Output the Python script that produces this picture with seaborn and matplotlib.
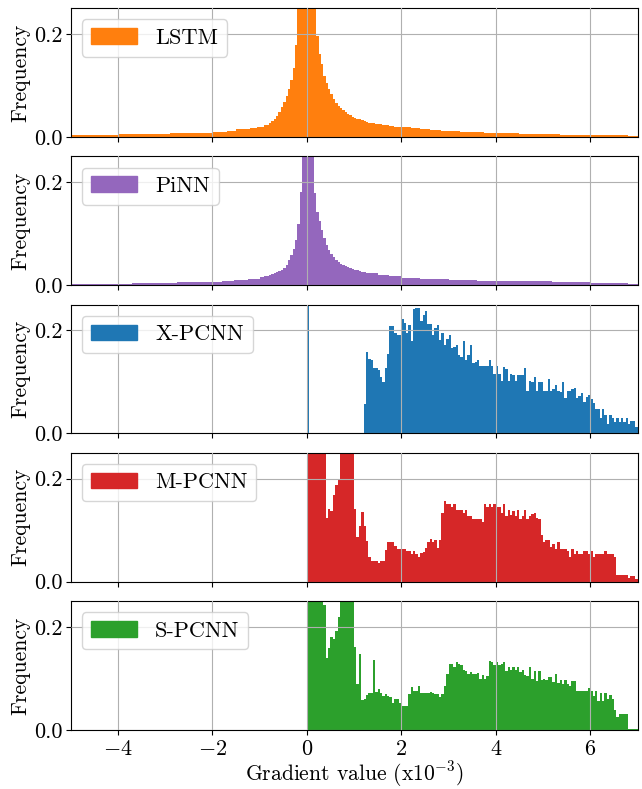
import matplotlib
matplotlib.use('Agg')
import matplotlib.pyplot as plt
import matplotlib.patches as mpatches
import seaborn as sns
import numpy as np
import pandas as pd

# --- data: bar heights (fraction of samples) ---

# LSTM / PiNN: wide bins in the tails, 0.05 bins in the core (-0.8 .. 1.3)
core_edges = np.linspace(-0.8, 1.3, 43)

lstm_left_edges = [-5.0, -4.0, -3.7, -2.9, -2.3, -2.0, -1.7, -1.5, -1.2, -1.05, -0.9, -0.8]
lstm_left = [0.004, 0.0055, 0.006, 0.0075, 0.0085, 0.010, 0.0115, 0.015, 0.017, 0.020, 0.024]
lstm_core = [0.027, 0.031, 0.036, 0.041, 0.049, 0.058, 0.068, 0.080, 0.093, 0.111,
             0.134, 0.179, 0.30, 0.35, 0.40, 0.45, 0.45, 0.40, 0.33, 0.27,
             0.197, 0.161, 0.141, 0.119, 0.105, 0.093, 0.083, 0.074, 0.066, 0.060,
             0.056, 0.052, 0.048, 0.045, 0.043, 0.040, 0.038, 0.036, 0.035, 0.033,
             0.031, 0.029]
lstm_right_edges = [1.3, 1.45, 1.6, 1.75, 1.85, 2.2, 2.4, 2.6, 2.85, 3.25, 3.75, 4.5, 5.35, 6.8, 7.0]
lstm_right = [0.028, 0.026, 0.024, 0.022, 0.020, 0.017, 0.015, 0.013, 0.011, 0.0095,
              0.0078, 0.006, 0.004, 0.002]

pinn_left_edges = [-5.0, -3.7, -2.75, -2.1, -1.8, -1.55, -1.25, -1.0, -0.9, -0.8]
pinn_left = [0.0025, 0.004, 0.0055, 0.007, 0.009, 0.010, 0.013, 0.016, 0.018]
pinn_core = [0.020, 0.021, 0.023, 0.025, 0.027, 0.030, 0.034, 0.040, 0.050, 0.058,
             0.070, 0.088, 0.118, 0.182, 0.28, 0.34, 0.40, 0.40, 0.30, 0.180,
             0.142, 0.125, 0.108, 0.092, 0.078, 0.069, 0.061, 0.054, 0.049, 0.045,
             0.042, 0.040, 0.038, 0.035, 0.033, 0.031, 0.030, 0.029, 0.027, 0.026,
             0.025, 0.024]
pinn_right_edges = [1.3, 1.5, 1.75, 2.0, 2.4, 3.0, 3.6, 4.4, 5.2, 6.0, 6.8, 7.0]
pinn_right = [0.023, 0.020, 0.018, 0.015, 0.013, 0.011, 0.009, 0.0075, 0.0065, 0.005, 0.003]

# PCNN variants: 0.05 bins from 0 to 7
pcnn_edges = np.linspace(0, 7, 141)

xpcnn = [0.32, 0, 0, 0, 0, 0, 0, 0, 0, 0,
         0, 0, 0, 0, 0, 0, 0, 0, 0, 0,
         0, 0, 0, 0, 0.058, 0.159, 0.144, 0.142, 0.127, 0.127,
         0.123, 0.110, 0.100, 0.128, 0.154, 0.209, 0.209, 0.194, 0.191, 0.192,
         0.222, 0.215, 0.194, 0.211, 0.179, 0.242, 0.244, 0.244, 0.219, 0.230,
         0.238, 0.213, 0.213, 0.192, 0.204, 0.211, 0.181, 0.194, 0.171, 0.183,
         0.192, 0.165, 0.168, 0.172, 0.152, 0.148, 0.179, 0.142, 0.152, 0.171,
         0.137, 0.139, 0.142, 0.131, 0.131, 0.131, 0.131, 0.142, 0.131, 0.116,
         0.131, 0.116, 0.102, 0.129, 0.126, 0.102, 0.116, 0.113, 0.102, 0.114,
         0.114, 0.114, 0.127, 0.083, 0.102, 0.100, 0.110, 0.083, 0.099, 0.099,
         0.083, 0.083, 0.106, 0.083, 0.087, 0.095, 0.083, 0.081, 0.099, 0.068,
         0.083, 0.083, 0.087, 0.089, 0.068, 0.072, 0.079, 0.062, 0.070, 0.074,
         0.066, 0.059, 0.047, 0.047, 0.030, 0.047, 0.036, 0.018, 0.036, 0.030,
         0.022, 0.030, 0.022, 0.030, 0.022, 0.030, 0.018, 0.024, 0.024, 0.013]

mpcnn = [0.34, 0.34, 0.34, 0.34, 0.34, 0.34, 0.34, 0.34, 0.124, 0.141,
         0.137, 0.168, 0.187, 0.199, 0.34, 0.34, 0.34, 0.34, 0.34, 0.34,
         0.141, 0.087, 0.108, 0.135, 0.108, 0.078, 0.047, 0.041, 0.041, 0.041,
         0.036, 0.040, 0.041, 0.061, 0.076, 0.076, 0.076, 0.070, 0.064, 0.064,
         0.064, 0.064, 0.059, 0.059, 0.053, 0.059, 0.053, 0.047, 0.055, 0.057,
         0.066, 0.076, 0.082, 0.076, 0.080, 0.066, 0.080, 0.133, 0.156, 0.151,
         0.151, 0.145, 0.151, 0.139, 0.139, 0.139, 0.133, 0.139, 0.128, 0.128,
         0.122, 0.122, 0.122, 0.122, 0.116, 0.151, 0.145, 0.151, 0.145, 0.151,
         0.145, 0.145, 0.133, 0.151, 0.128, 0.139, 0.130, 0.137, 0.128, 0.139,
         0.122, 0.128, 0.139, 0.122, 0.128, 0.131, 0.133, 0.124, 0.122, 0.091,
         0.076, 0.080, 0.080, 0.068, 0.074, 0.063, 0.076, 0.064, 0.064, 0.064,
         0.059, 0.047, 0.064, 0.053, 0.059, 0.053, 0.053, 0.059, 0.059, 0.053,
         0.059, 0.047, 0.053, 0.053, 0.053, 0.053, 0.059, 0.053, 0.053, 0.053,
         0.047, 0.013, 0.013, 0.013, 0.012, 0.012, 0.008, 0.011, 0.011, 0.006]

spcnn = [0.34, 0.34, 0.34, 0.34, 0.34, 0.34, 0.34, 0.243, 0.140, 0.159,
         0.180, 0.176, 0.192, 0.219, 0.34, 0.34, 0.34, 0.34, 0.34, 0.34,
         0.161, 0.088, 0.147, 0.057, 0.059, 0.067, 0.071, 0.071, 0.136, 0.074,
         0.080, 0.071, 0.065, 0.069, 0.065, 0.063, 0.053, 0.059, 0.059, 0.053,
         0.047, 0.047, 0.047, 0.069, 0.084, 0.076, 0.076, 0.086, 0.072, 0.071,
         0.072, 0.072, 0.074, 0.071, 0.069, 0.069, 0.063, 0.069, 0.086, 0.109,
         0.128, 0.128, 0.122, 0.132, 0.128, 0.126, 0.117, 0.115, 0.109, 0.113,
         0.109, 0.109, 0.111, 0.099, 0.107, 0.099, 0.105, 0.134, 0.132, 0.126,
         0.132, 0.126, 0.128, 0.132, 0.115, 0.122, 0.117, 0.121, 0.117, 0.121,
         0.113, 0.117, 0.107, 0.105, 0.121, 0.099, 0.115, 0.094, 0.115, 0.097,
         0.099, 0.097, 0.103, 0.103, 0.092, 0.109, 0.090, 0.097, 0.088, 0.096,
         0.088, 0.086, 0.094, 0.094, 0.076, 0.076, 0.076, 0.076, 0.076, 0.082,
         0.076, 0.065, 0.076, 0.055, 0.072, 0.055, 0.072, 0.059, 0.067, 0.059,
         0.038, 0.024, 0.030, 0.030, 0.030, 0.030, 0.002, 0.002, 0.002, 0.002]

labels = ['LSTM', 'PiNN', 'X-PCNN', 'M-PCNN', 'S-PCNN']
colors = ['#ff7f0e', '#9467bd', '#1f77b4', '#d62728', '#2ca02c']
xticks = [-4, -2, 0, 2, 4, 6]
yticks = [0.0, 0.2]

# assemble (edges, heights) per model
lstm_edges = np.concatenate([lstm_left_edges[:-1], core_edges, lstm_right_edges[1:]])
lstm_vals = lstm_left + lstm_core + lstm_right
pinn_edges = np.concatenate([pinn_left_edges[:-1], core_edges, pinn_right_edges[1:]])
pinn_vals = pinn_left + pinn_core + pinn_right

series = [(lstm_edges, lstm_vals), (pinn_edges, pinn_vals),
          (pcnn_edges, xpcnn), (pcnn_edges, mpcnn), (pcnn_edges, spcnn)]

plt.rcParams['font.family'] = 'serif'
plt.rcParams['font.serif'] = ['cmr10']
plt.rcParams['mathtext.fontset'] = 'cm'
plt.rcParams['axes.formatter.use_mathtext'] = True
plt.rcParams['font.size'] = 16

fig, axes = plt.subplots(5, 1, figsize=(6.42, 7.89), dpi=100, sharex=True)
fig.subplots_adjust(left=0.11, right=0.993, top=0.9895, bottom=0.075, hspace=0.15)

for ax, (edges, vals), lab, col in zip(axes, series, labels, colors):
    edges = [float(e) for e in edges]
    df = pd.DataFrame({
        'center': [(a + b) / 2 for a, b in zip(edges[:-1], edges[1:])],
        'freq': vals,
    })
    sns.histplot(data=df, x='center', weights='freq', bins=edges, stat='count',
                 color=col, alpha=1, linewidth=0, ax=ax)
    ax.set_xlim(-5, 7)
    ax.set_ylim(0, 0.25)
    ax.set_yticks(yticks)
    ax.set_yticklabels(['%.1f' % t for t in yticks])
    ax.set_xticks(xticks)
    ax.set_ylabel('Frequency', fontsize=15.5, labelpad=3)
    ax.set_xlabel('')
    ax.grid(True, color='#b0b0b0', linewidth=0.8)
    ax.set_axisbelow(False)
    ax.tick_params(labelsize=16)
    ax.tick_params(axis='y', pad=2)
    ax.legend(handles=[mpatches.Patch(color=col, label=lab)], loc='upper left',
              fontsize=16, handlelength=2.1)

axes[-1].set_xlabel(r'Gradient value (x10$^{-3}$)', fontsize=15.5)
axes[-1].xaxis.set_label_coords(0.5, -0.225)

plt.savefig('out.png', dpi=100)
plt.close()
